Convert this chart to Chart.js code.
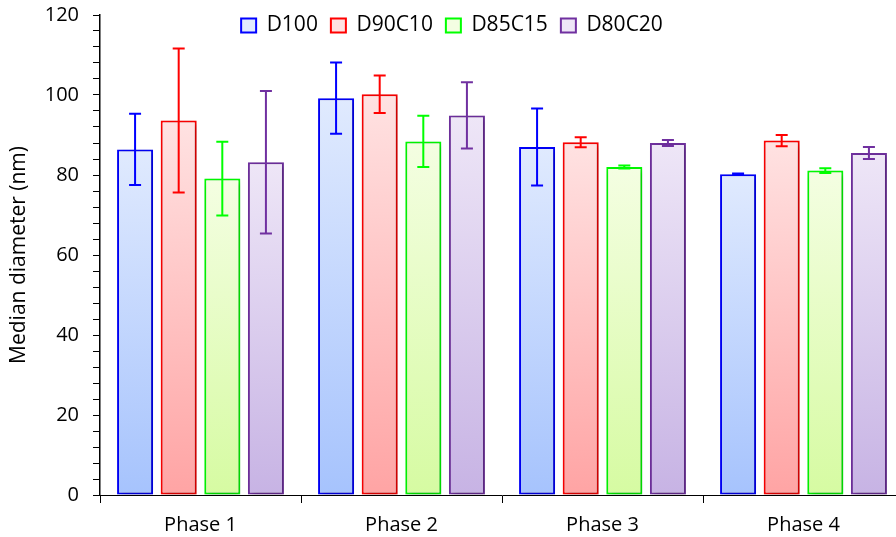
<!DOCTYPE html>
<html>
<head>
<meta charset="utf-8">
<script src="https://cdn.jsdelivr.net/npm/chart.js@4.4.1/dist/chart.umd.min.js"></script>
<style>
html,body{margin:0;padding:0;background:#fff;overflow:hidden;}
#wrap{width:906px;height:537px;position:relative;}
</style>
</head>
<body>
<div id="wrap"><canvas id="c" width="906" height="537"></canvas></div>
<script>
const categories = ['Phase 1', 'Phase 2', 'Phase 3', 'Phase 4'];
const seriesNames = ['D100', 'D90C10', 'D85C15', 'D80C20'];
const d100 = [86.4, 99.2, 87.0, 80.2];
const d90c10 = [93.6, 100.2, 88.2, 88.6];
const d85c15 = [79.1, 88.4, 82.0, 81.1];
const d80c20 = [83.2, 94.9, 88.0, 85.5];
const d100Err = [8.9, 8.9, 9.6, 0.2];
const d90c10Err = [18.0, 4.7, 1.25, 1.4];
const d85c15Err = [9.2, 6.4, 0.4, 0.6];
const d80c20Err = [17.8, 8.3, 0.75, 1.5];
const yTicks = [0, 20, 40, 60, 80, 100, 120];

const borders = ['#0000ff', '#ff0000', '#00ff00', '#7030a0'];
const topCols = ['#e0eafe', '#ffe2e2', '#f4fee2', '#eee6f7'];
const botCols = ['#a6c3fd', '#ffa4a4', '#d6fba2', '#c7b3e4'];
const values = [d100, d90c10, d85c15, d80c20];
const errors = [d100Err, d90c10Err, d85c15Err, d80c20Err];

function makeBg(i) {
  return function (ctx) {
    const chart = ctx.chart;
    const ys = chart.scales && chart.scales.y;
    if (!ys || ctx.type !== 'data' || !ctx.parsed) return topCols[i];
    const t = ys.getPixelForValue(ctx.parsed.y);
    const b = ys.getPixelForValue(0);
    const g = chart.ctx.createLinearGradient(0, t, 0, b);
    g.addColorStop(0, topCols[i]);
    g.addColorStop(1, botCols[i]);
    return g;
  };
}

const datasets = seriesNames.map((n, i) => ({
  label: n,
  data: values[i],
  errors: errors[i],
  backgroundColor: makeBg(i),
  borderColor: borders[i],
  borderWidth: 2,
  borderSkipped: false,
  barPercentage: 0.826,
  categoryPercentage: 0.868
}));

const FONT = '"Open Sans", Lato, sans-serif';
const LEG_PAD = 13;
const LEG_TOP = 15 - LEG_PAD;

const shadowPlugin = {
  id: 'shadow',
  beforeDatasetsDraw(chart) {
    const c = chart.ctx;
    c.save();
    c.shadowColor = 'rgba(0,0,0,0.28)';
    c.shadowBlur = 6;
    c.shadowOffsetX = 2;
    c.shadowOffsetY = 2;
  },
  afterDatasetsDraw(chart) {
    chart.ctx.restore();
    const c = chart.ctx;
    const ys = chart.scales.y;
    chart.data.datasets.forEach((ds, di) => {
      const meta = chart.getDatasetMeta(di);
      meta.data.forEach((bar, j) => {
        const v = ds.data[j], e = ds.errors[j];
        const x = bar.x;
        const yt = ys.getPixelForValue(v + e);
        const yb = ys.getPixelForValue(v - e);
        c.save();
        c.strokeStyle = ds.borderColor;
        c.lineWidth = 2;
        c.beginPath();
        c.moveTo(x, yt); c.lineTo(x, yb);
        c.moveTo(x - 6, yt); c.lineTo(x + 6, yt);
        c.moveTo(x - 6, yb); c.lineTo(x + 6, yb);
        c.stroke();
        c.restore();
      });
    });
  }
};

const legendNoSpace = {
  id: 'legendNoSpace',
  beforeInit(chart) {
    const lg = chart.legend;
    const origFit = lg.fit;
    lg.fit = function () {
      origFit.call(this);
      this._realH = this.height;
      this.height = 0;
    };
    const origDraw = lg.draw;
    lg.draw = function () {
      const t = this.top, b = this.bottom, h = this.height;
      this.top = LEG_TOP;
      this.height = this._realH;
      this.bottom = LEG_TOP + this._realH;
      origDraw.call(this);
      this.top = t; this.bottom = b; this.height = h;
    };
  }
};

new Chart(document.getElementById('c'), {
  type: 'bar',
  data: { labels: categories, datasets },
  plugins: [shadowPlugin, legendNoSpace],
  options: {
    responsive: false,
    animation: false,
    layout: { padding: { top: 15, left: 0, right: 2, bottom: 0 } },
    plugins: {
      tooltip: { enabled: false },
      legend: {
        position: 'top',
        labels: {
          boxWidth: 15, boxHeight: 14, padding: LEG_PAD,
          color: '#000',
          font: { family: FONT, size: 21 },
          generateLabels(chart) {
            return chart.data.datasets.map((ds, i) => ({
              text: ds.label,
              fillStyle: topCols[i],
              strokeStyle: borders[i],
              lineWidth: 2,
              datasetIndex: i,
              fontColor: '#000'
            }));
          }
        }
      }
    },
    scales: {
      x: {
        grid: { display: true, offset: true, drawOnChartArea: false, drawTicks: true, tickLength: 8, color: '#000', lineWidth: 1 },
        border: { display: true, color: '#000', width: 1 },
        ticks: { color: '#000', font: { family: FONT, size: 20 }, padding: 10 },
        afterFit(s) { s.height = 42; }
      },
      y: {
        min: 0, max: 120,
        afterBuildTicks(s) {
          const t = [];
          for (let v = 0; v <= 120; v += 4) t.push({ value: v });
          s.ticks = t;
        },
        grid: { display: true, drawOnChartArea: false, drawTicks: true, tickLength: 7, color: '#000', lineWidth: 1 },
        border: { display: true, color: '#000', width: 1.5 },
        ticks: {
          color: '#000', font: { family: FONT, size: 20 }, padding: 14, autoSkip: false,
          callback(v) { return yTicks.includes(v) ? String(v) : ''; }
        },
        title: { display: true, text: 'Median diameter (nm)', color: '#000', font: { family: FONT, size: 21 }, padding: { top: 6, bottom: 0 } },
        afterFit(s) { s.width = 100; s.paddingTop = 0; s.paddingBottom = 0; }
      }
    }
  }
});
</script>
</body>
</html>
